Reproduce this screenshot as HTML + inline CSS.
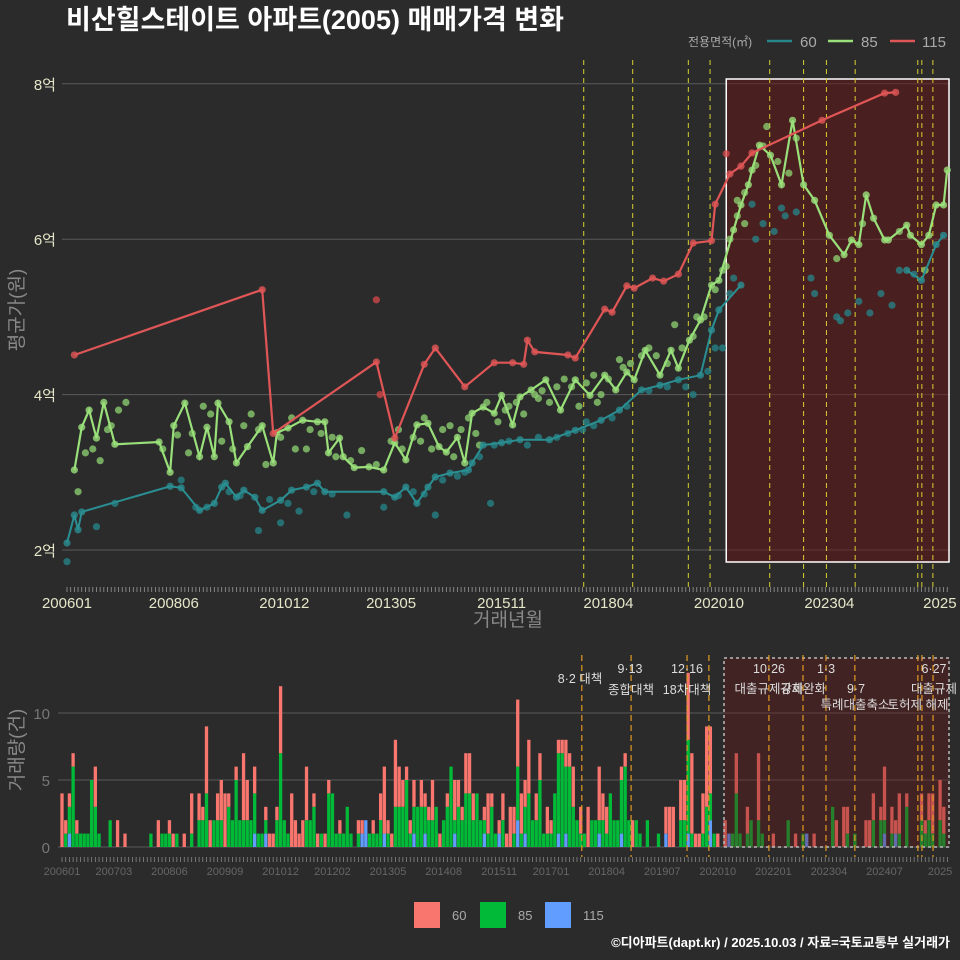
<!DOCTYPE html>
<html><head><meta charset="utf-8"><style>
body{margin:0;background:#2b2b2c;}
svg{display:block;font-family:"Liberation Sans","Noto Sans CJK KR",sans-serif;}
</style></head><body>
<svg id="c" width="960" height="960" viewBox="0 0 960 960">
<rect width="960" height="960" fill="#2b2b2c"/>
<text x="66" y="29" fill="#fff" font-size="27" font-weight="bold">비산힐스테이트 아파트(2005) 매매가격 변화</text>
<g>
<text x="688" y="46" fill="#aaa" font-size="12">전용면적(㎡)</text>
<line x1="767" y1="41" x2="792" y2="41" stroke="#26878b" stroke-width="2.5"/><text x="800" y="47" fill="#aaa" font-size="15">60</text>
<line x1="828" y1="41" x2="853" y2="41" stroke="#9ae07a" stroke-width="2.5"/><text x="861" y="47" fill="#aaa" font-size="15">85</text>
<line x1="890" y1="41" x2="915" y2="41" stroke="#e05656" stroke-width="2.5"/><text x="922" y="47" fill="#aaa" font-size="15">115</text>
</g>
<g id="gtop"></g>
<g id="gbot"></g>
<text x="508" y="626" fill="#888" font-size="19" text-anchor="middle">거래년월</text>
<text transform="translate(23,310) rotate(-90)" fill="#888" font-size="19" text-anchor="middle">평균가(원)</text>
<text transform="translate(23,750) rotate(-90)" fill="#888" font-size="19" text-anchor="middle">거래량(건)</text>
<g>
<rect x="414" y="902" width="26" height="26" fill="#f8766d"/><text x="452" y="920" fill="#aaa" font-size="13">60</text>
<rect x="480" y="902" width="26" height="26" fill="#00ba38"/><text x="518" y="920" fill="#aaa" font-size="13">85</text>
<rect x="545" y="902" width="26" height="26" fill="#619cff"/><text x="583" y="920" fill="#aaa" font-size="13">115</text>
</g>
<text x="950" y="947" fill="#fff" font-size="13" font-weight="bold" text-anchor="end">©디아파트(dapt.kr) / 2025.10.03 / 자료=국토교통부 실거래가</text>
</svg>
<script>
const NS='http://www.w3.org/2000/svg';
const m115=[2,53,56,84,89,97,100,108,116,121,124,125,127,136,138,146,148,152,154,159,162,166,170,175,176,180,183,186,205,222,225];
const p115=[4.51,5.35,3.5,4.42,3.44,4.39,4.6,4.1,4.41,4.41,4.39,4.7,4.55,4.51,4.47,5.1,5.06,5.4,5.37,5.5,5.46,5.55,5.95,5.98,6.45,6.84,6.94,7.11,7.53,7.88,7.89];
const m85=[2,4,6,8,10,13,25,28,29,32,36,38,40,41,44,46,49,53,56,57,60,64,68,70,71,74,75,78,82,86,89,92,95,98,101,103,106,108,110,113,116,118,121,123,126,130,134,138,142,146,149,152,154,157,161,164,166,169,172,175,177,181,183,185,186,188,191,194,197,200,203,207,211,213,215,217,219,222,223,228,229,232,234,236,238,239];
const p85=[3.03,3.58,3.8,3.44,3.9,3.36,3.39,3.0,3.6,3.89,3.2,3.58,3.2,3.89,3.65,3.12,3.33,3.6,3.12,3.51,3.57,3.67,3.65,3.65,3.25,3.44,3.2,3.06,3.07,3.03,3.38,3.16,3.61,3.63,3.33,3.26,3.45,3.12,3.76,3.84,3.76,3.99,3.61,3.97,4.06,4.19,3.8,4.19,3.99,4.25,4.06,4.29,4.19,4.57,4.25,4.57,4.34,4.7,4.96,5.41,5.47,6.12,6.44,6.7,6.89,7.21,7.08,6.7,7.53,6.7,6.5,6.05,5.8,5.99,5.93,6.57,6.27,5.99,5.99,6.18,6.05,5.93,6.05,6.44,6.44,6.89];
const m60=[0,2,3,4,28,31,36,40,42,43,46,48,51,53,58,61,65,68,70,86,89,92,95,98,100,104,109,110,113,118,123,131,138,145,150,156,161,166,172,175,177,183,null,228,232,236,238];
const p60=[2.09,2.45,2.26,2.49,2.82,2.8,2.51,2.6,2.81,2.86,2.68,2.77,2.68,2.51,2.64,2.77,2.81,2.86,2.75,2.75,2.68,2.81,2.6,2.81,2.94,2.99,3.03,3.12,3.35,3.38,3.42,3.42,3.54,3.67,3.8,4.06,4.12,4.19,4.25,4.83,5.09,5.41,null,5.6,5.47,5.93,6.05];
const xm60=[0,8,13,31,35,52,58,63,76,86,100,115,141,178,186,187,189,192,194,195,198,202,203,209,210,212,215,218,221,224,226,230,38,44,47,55,60,67,72,90,94,97,102,106,108,112,116,120,125,128,133,136,140,143,148,152,158,163,168,170,174,176,180,181];
const xp60=[1.85,2.3,2.6,2.9,2.55,2.25,2.35,2.5,2.45,2.55,2.45,2.6,3.65,4.6,6.45,6.0,6.2,6.1,6.4,6.3,6.35,5.5,5.3,5.0,4.95,5.05,5.2,5.05,5.3,5.15,5.6,5.55,2.55,2.75,2.7,2.65,2.6,2.75,2.72,2.7,2.75,2.72,2.9,2.95,3.0,3.2,3.35,3.4,3.35,3.45,3.45,3.5,3.55,3.6,3.7,3.85,4.05,4.1,4.1,4.0,4.3,4.6,5.3,5.5];
const xm85=[3,5,9,11,14,30,33,37,50,54,62,66,72,80,90,96,104,112,120,128,135,144,150,158,165,171,179,182,184,187,190,196,209,216,226,233,7,12,16,26,34,39,42,45,48,52,58,61,65,69,73,77,84,88,91,94,97,99,102,105,107,109,111,114,117,119,122,124,127,129,131,133,137,139,141,143,145,147,151,153,156,160,163,167,170,173,176,178,180,182,184,189,193,198];
const xp85=[2.75,3.25,3.15,3.55,3.8,3.48,3.25,3.85,3.75,3.1,3.3,3.55,3.45,3.28,3.55,3.4,3.6,3.35,3.85,3.95,4.2,3.9,4.45,4.6,4.9,5.0,5.65,6.5,6.2,6.95,7.45,6.85,5.75,6.2,6.1,5.6,3.3,3.6,3.9,3.3,3.5,3.75,3.4,3.3,3.6,3.55,3.45,3.7,3.3,3.5,3.2,3.15,3.1,3.4,3.3,3.45,3.7,3.3,3.55,3.2,3.55,3.7,3.5,3.9,3.65,3.8,3.9,3.75,4.0,4.05,3.9,4.1,4.1,3.85,4.15,4.25,4.0,4.2,4.35,4.4,4.5,4.5,4.4,4.6,4.75,5.0,5.35,5.6,6.0,6.3,6.6,7.2,7.0,7.3];
const xm115=[84,85,179];
const xp115=[5.22,4.0,7.1];
const v60=[4,1,1,1,1,0,0,0,0,3,0,0,0,0,0,2,0,1,0,0,0,0,0,0,0,0,2,0,0,1,1,0,0,1,0,3,0,2,1,5,2,0,2,3,4,1,0,1,0,5,3,0,2,0,0,1,1,1,1,5,0,0,4,2,1,2,4,0,1,1,0,1,1,0,0,1,0,0,0,0,1,1,0,0,1,0,2,5,1,1,5,3,2,1,1,2,0,2,1,1,3,0,1,0,1,0,3,2,1,3,3,2,0,0,1,3,1,0,1,2,1,3,2,5,3,2,4,0,2,2,0,2,1,0,1,1,2,1,3,0,2,0,3,0,0,4,2,2,0,0,0,1,1,0,2,0,0,0,0,0,0,0,0,2,3,3,0,3,3,5,6,1,1,3,6,5,0,1,0,2,0,0,3,0,0,2,0,0,5,0,0,0,1,0,0,0,0,0,1,0,0,0,0,1,0,0,0,0,0,2,0,3,2,0,0,0,0,2,2,2,0,1,4,0,2,1,3,0,1,0,0,0,2,1,2,3,0,3,2,0];
const v85=[0,1,2,6,1,1,1,1,5,3,1,0,0,2,0,0,0,0,0,0,0,0,0,0,1,0,0,1,1,1,0,1,0,0,0,1,0,2,2,4,0,2,2,2,0,3,2,5,2,2,2,2,3,1,1,1,0,0,2,7,2,1,0,0,0,0,2,2,3,0,1,0,4,4,1,1,1,3,1,0,1,0,0,1,1,1,2,0,1,0,3,3,3,5,1,2,3,3,2,2,2,3,0,2,3,6,1,3,2,4,4,2,4,2,1,1,3,1,0,2,0,0,1,4,1,2,4,2,2,5,1,1,1,4,6,7,5,6,3,2,1,1,0,2,2,1,2,1,4,2,2,4,6,2,0,2,1,0,2,0,0,1,0,0,0,0,0,2,2,7,1,0,0,1,3,2,1,0,0,0,0,1,4,1,0,1,2,0,2,1,0,0,0,0,0,0,2,0,0,0,1,0,0,0,0,0,0,0,3,0,0,0,1,0,1,0,0,0,0,2,0,2,1,0,1,0,1,0,3,0,0,0,2,1,2,1,0,2,1,0];
const v115=[0,0,1,0,0,0,0,0,0,0,0,0,0,0,0,0,0,0,0,0,0,0,0,0,0,0,0,0,0,0,0,0,0,0,0,0,0,0,0,0,0,0,0,0,0,0,0,0,0,0,0,0,1,0,0,1,0,0,0,0,0,0,0,0,0,0,0,0,0,0,0,0,0,0,0,0,0,0,0,0,0,1,2,0,0,0,0,1,0,0,0,0,0,0,0,1,0,0,1,0,0,0,0,0,0,0,1,0,0,0,0,0,0,0,1,0,0,0,1,0,0,0,0,2,0,1,0,0,0,0,0,0,0,0,1,0,1,0,0,0,0,0,0,0,0,1,0,0,0,0,0,1,0,0,0,0,0,0,0,0,0,0,0,1,0,0,0,0,0,1,0,0,0,0,0,2,0,0,0,0,1,0,0,0,0,0,0,0,0,0,0,0,0,0,0,0,0,0,0,0,0,1,0,0,0,0,0,0,0,0,0,0,0,0,0,0,0,0,0,0,0,0,1,0,0,1,0,0,0,0,0,0,0,0,0,0,0,0,0,0];
const policyMonths=[140.3,153.6,168.7,174.6,190.8,200,206.2,214,231,232.1,235.1];
const topTicks=['200601','200806','201012','201305','201511','201804','202010','202304','2025'];
const topTickM=[0,29,59,88,118,147,177,207,237];
const botTicks=['200601','200703','200806','200909','201012','201202','201305','201408','201511','201701','201804','201907','202010','202201','202304','202407','2025'];
const botTickM=[0,14,29,44,59,73,88,103,118,132,147,162,177,192,207,222,237];
const yTicks=[2,4,6,8];
const vTicks=[0,5,10];

const xT=m=>67+m*3.683, yT=p=>550-(p-2)*77.7;
const xB=m=>62+m*3.705, yB=v=>847-v*13.4;
const gTop=document.getElementById('gtop'), gBot=document.getElementById('gbot');
function mk(tag,attrs,parent){const e=document.createElementNS(NS,tag);for(const k in attrs)e.setAttribute(k,attrs[k]);parent.appendChild(e);return e;}

yTicks.forEach(t=>{
  const g=mk('line',{x1:62,x2:950,y1:yT(t),y2:yT(t),stroke:'#5a5a5a','stroke-width':1},gTop);
  
  
  const l=mk('text',{x:56,y:yT(t)+6,fill:'#e6e6c8','font-size':15,'text-anchor':'end'},gTop);
  l.textContent=t+'억';
  
  
});
const hr=mk('rect',{x:xT(179),y:79,width:949-xT(179),height:483,fill:'rgba(105,20,20,0.5)',stroke:'#fff','stroke-width':1.5},gTop);


policyMonths.forEach(m=>{
  const l=mk('line',{x1:xT(m),x2:xT(m),y1:60,y2:590,stroke:'#d8d030','stroke-width':1,'stroke-dasharray':'5,4'},gTop);
  
  
});
for(let m=0;m<=239;m++){mk('line',{x1:xT(m),x2:xT(m),y1:587,y2:592,stroke:'#999','stroke-width':0.8},gTop);}
topTickM.forEach((m,i)=>{
  const t=mk('text',{x:xT(m),y:608,fill:'#e6e6c8','font-size':15,'text-anchor':'middle'},gTop);
  t.textContent=topTicks[i];
  
  
});
function series(ms,ps,col,name,lw){
  let d='',pen=false;
  ms.forEach((m,i)=>{if(m===null){pen=false;return;}d+=(pen?'L':'M')+xT(m).toFixed(1)+','+yT(ps[i]).toFixed(1);pen=true;});
  ms.forEach((m,i)=>{if(m===null)return;const c=mk('circle',{cx:xT(m),cy:yT(ps[i]),r:3.6,fill:col,opacity:0.8},gTop);
    
    });
  const p=mk('path',{d:d,fill:'none',stroke:col,'stroke-width':lw},gTop);
  
  
}
function dots(ms,ps,col,name){ms.forEach((m,i)=>{const c=mk('circle',{cx:xT(m),cy:yT(ps[i]),r:3.6,fill:col,opacity:0.75},gTop);
  
  });}
dots(xm60,xp60,'#26878b','size60');
dots(xm85,xp85,'#8fd672','size85');
dots(xm115,xp115,'#d94848','size115');
series(m60,p60,'#2a8f92','size60',2);
series(m85,p85,'#9ae07a','size85',2.2);
series(m115,p115,'#e05656','size115',2.2);

vTicks.forEach(t=>{
  const g=mk('line',{x1:58,x2:950,y1:yB(t),y2:yB(t),stroke:'#5a5a5a','stroke-width':1},gBot);
  
  
  const l=mk('text',{x:50,y:yB(t)+6,fill:'#777','font-size':15,'text-anchor':'end'},gBot);
  l.textContent=t;
  
  
});
const bw=3.3;
for(let m=0;m<v60.length;m++){
  let base=0;
  [[v115[m],'#619cff','bar-115'],[v85[m],'#00ba38','bar-85'],[v60[m],'#f8766d','bar-60']].forEach(([v,c,n])=>{
    if(!v)return;
    const r=mk('rect',{x:xB(m)-bw/2,y:yB(base+v),width:bw,height:v*13.4,fill:c},gBot);
    
    
    base+=v;
  });
}
const br=mk('rect',{x:724,y:658,width:225,height:189,fill:'rgba(110,20,20,0.35)',stroke:'#bbb','stroke-width':1.5,'stroke-dasharray':'3,3'},gBot);


policyMonths.forEach(m=>{
  const l=mk('line',{x1:xB(m),x2:xB(m),y1:655,y2:857,stroke:'#e09a20','stroke-width':1.2,'stroke-dasharray':'6,4'},gBot);
  
  
});
const ann=[['8·2 대책',580,683],['9·13',630,673],['종합대책',631,694],['12·16',687,673],['18차대책',687,694],['10·26',769,673],['대출규제강화',769,693],['1·3',826,673],['규제완화',803,693],['9·7',856,693],['특례대출축소',855,709],['토허제 해제',918,709],['6·27',934,673],['대출규제',934,693]];
ann.forEach(a=>{const t=mk('text',{x:a[1],y:a[2],fill:'#ddd','font-size':12.5,'text-anchor':'middle'},gBot);t.textContent=a[0];
  
  });
for(let m=0;m<=239;m++){mk('line',{x1:xB(m),x2:xB(m),y1:857,y2:862,stroke:'#888','stroke-width':0.8},gBot);}
botTickM.forEach((m,i)=>{
  const t=mk('text',{x:xB(m),y:875,fill:'#666','font-size':11,'text-anchor':'middle'},gBot);
  t.textContent=botTicks[i];
  
  
});
</script>
</body></html>
